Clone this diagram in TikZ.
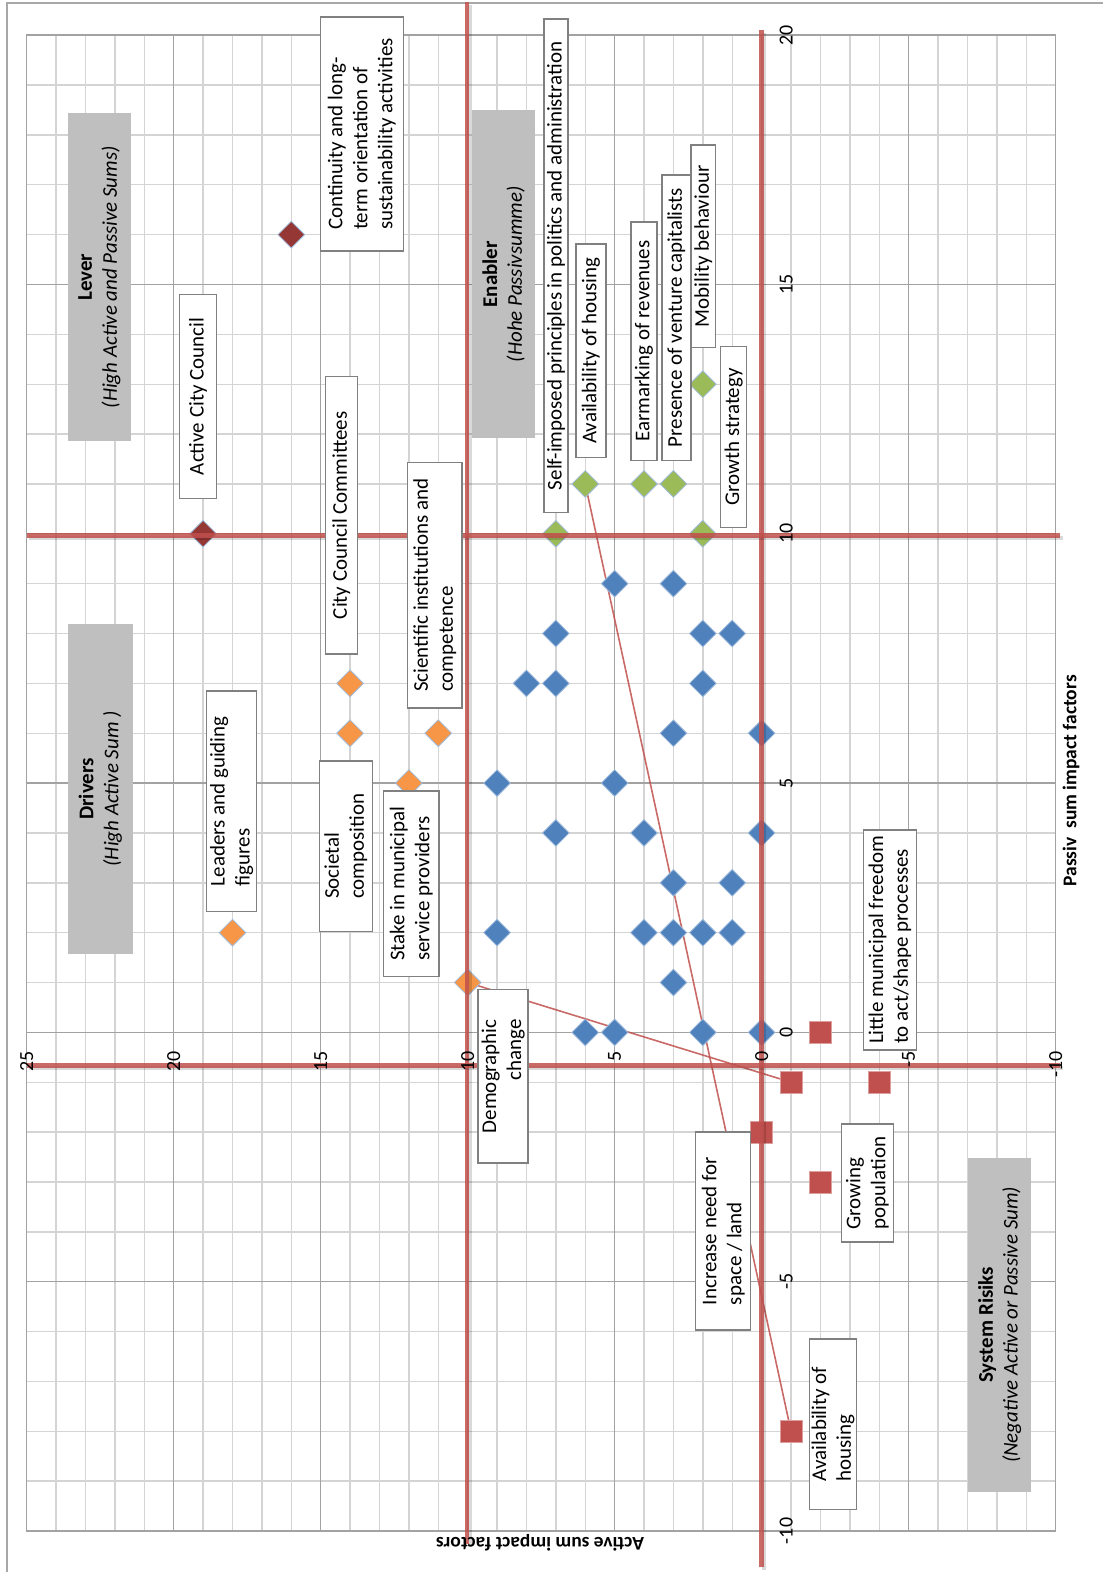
\documentclass[tikz,border=0pt]{standalone}
\usepackage{fontspec}
\setmainfont{Carlito}
\usetikzlibrary{shapes.geometric}

\definecolor{gridminor}{HTML}{D4D4D4}
\definecolor{gridmajor}{HTML}{A2A2A2}
\definecolor{framegrey}{HTML}{A8A8A8}
\definecolor{ptblue}{HTML}{4F81BD}
\definecolor{ptorange}{HTML}{F79646}
\definecolor{ptgreen}{HTML}{9BBB59}
\definecolor{ptdark}{HTML}{953735}
\definecolor{ptred}{HTML}{C0504D}
\definecolor{panelgrey}{HTML}{BFBFBF}
\definecolor{tagedge}{HTML}{808080}

\pgfdeclarelayer{paper}
\pgfdeclarelayer{gridlayer}
\pgfdeclarelayer{linklayer}
\pgfsetlayers{paper,gridlayer,linklayer,main}

\tikzset{
  chart/.style={shift={(763,1032)}, x={(-29.45pt,0pt)}, y={(0pt,49.95pt)}},
  minorline/.style={gridminor, line width=1.4pt},
  majorline/.style={gridmajor, line width=1.4pt},
  dmd/.style={diamond, inner sep=0pt, minimum width=27pt, minimum height=27pt,
    draw=ptblue!55!white, line width=0.8pt},
  factorpt/.style={dmd, fill=ptblue},
  driverpt/.style={dmd, fill=ptorange},
  leverpt/.style={dmd, fill=ptdark},
  enablerpt/.style={dmd, fill=ptgreen},
  riskpt/.style={rectangle, inner sep=0pt, minimum size=22pt, fill=ptred,
    draw=ptred!55!white, line width=0.8pt},
  link/.style={ptred, line width=1.6pt, opacity=0.85},
  redrule/.style={ptred, line width=4.5pt, opacity=0.85},
  rulehalo/.style={black, line width=4pt, opacity=0.15},
  panel/.style={fill=panelgrey, rotate=90, inner sep=0pt, align=center,
    font=\fontsize{21}{25}\selectfont},
  tagstyle/.style={draw=tagedge, fill=white, line width=1.5pt, rotate=90,
    inner xsep=6pt, inner ysep=0pt, font=\fontsize{21}{25}\selectfont},
  ticklbl/.style={rotate=90, inner sep=0pt, font=\fontsize{20}{22}\selectfont},
  axtitle/.style={inner sep=0pt, font=\bfseries\fontsize{19.5}{22}\selectfont},
}

% text box given by name, left, top, right, bottom, alignment, text
\newcommand{\tagbox}[7]{%
  \pgfmathsetmacro\tbw{(#4)-(#2)}%
  \pgfmathsetmacro\tbh{(#5)-(#3)}%
  \node[tagstyle, align=#6, minimum width=\tbh pt, minimum height=\tbw pt]
    (#1) at ({((#2)+(#4))/2},{((#3)+(#5))/2}) {#7};}

\begin{document}
\begin{tikzpicture}[x=1pt,y=-1pt]
\begin{pgfonlayer}{paper}
  \path[use as bounding box, fill=white] (0,0) rectangle (1105,1573);
\end{pgfonlayer}

% chart frame
\draw[framegrey, line width=1.2pt] (7,1573) -- (7,0.8) -- (1105,0.8);

\begin{scope}[chart]
  % grid
  \begin{pgfonlayer}{gridlayer}
    \foreach \a in {-9,...,24} \draw[minorline] (\a,-10) -- (\a,20);
    \foreach \p in {-9,...,19} \draw[minorline] (-10,\p) -- (25,\p);
    \foreach \a in {-5,0,...,20} \draw[majorline] (\a,-10) -- (\a,20);
    \foreach \p in {-5,0,...,15} \draw[majorline] (-10,\p) -- (25,\p);
    \draw[majorline] (-10,-10) rectangle (25,20);
  \end{pgfonlayer}

  % factors: (active sum, passive sum)
  \foreach \a/\p [count=\i] in {6/0,5/0,2/0,0/0,3/1,9/2,4/2,3/2,2/2,1/2,3/3,1/3,
      7/4,4/4,0/4,9/5,5/5,3/6,0/6,8/7,7/7,2/7,7/8,2/8,1/8,5/9,3/9}
    \node[factorpt] (f\i) at (\a,\p) {};

  \node[driverpt] (dLeaders) at (18,2) {};
  \node[driverpt] (dCommittees) at (14,7) {};
  \node[driverpt] (dSocietal) at (14,6) {};
  \node[driverpt] (dStake) at (12,5) {};
  \node[driverpt] (dScience) at (11,6) {};
  \node[driverpt] (dDemo) at (10,1) {};

  \node[leverpt] (lCouncil) at (19,10) {};
  \node[leverpt] (lContinuity) at (16,16) {};

  \node[enablerpt] (eSelf) at (7,10) {};
  \node[enablerpt] (eHousing) at (6,11) {};
  \node[enablerpt] (eEarmark) at (4,11) {};
  \node[enablerpt] (eVenture) at (3,11) {};
  \node[enablerpt] (eGrowth) at (2,10) {};
  \node[enablerpt] (eMobility) at (2,13) {};

  \node[riskpt] (rLittle) at (-2,0) {};
  \node[riskpt] (rDemo) at (-1,-1) {};
  \node[riskpt] (rLittleB) at (-4,-1) {};
  \node[riskpt] (rSpace) at (0,-2) {};
  \node[riskpt] (rGrowing) at (-2,-3) {};
  \node[riskpt] (rHousing) at (-1,-8) {};

  % shifts of factors
  \begin{pgfonlayer}{linklayer}
    \draw[link] (dDemo.center) -- (rDemo.center);
    \draw[link] (eHousing.center) -- (rHousing.center);
  \end{pgfonlayer}
\end{scope}

% quadrant borders
\foreach \sx/\sy/\ex/\ey in {468/0/468/1545, 763/28/763/1568, 27/534/1062/534, 27/1065/1062/1065}{
  \draw[rulehalo] (\sx+2.5,\sy+2.5) -- (\ex+2.5,\ey+2.5);
  \draw[redrule] (\sx,\sy) -- (\ex,\ey);
}

% quadrant captions
\node[panel, minimum width=329pt, minimum height=63pt] (lever) at (99.5,275.5)
  {\textbf{Lever}\\\textit{(High Active and Passive Sums)}};
\node[panel, minimum width=330pt, minimum height=65pt] (drivers) at (100.5,788)
  {\textbf{Drivers}\\\textit{(High Active Sum )}};
\node[panel, minimum width=329pt, minimum height=63pt] (enabler) at (504.5,272.5)
  {\textbf{Enabler}\\\textit{(Hohe Passivsumme)}};
\node[panel, minimum width=334pt, minimum height=63pt] (risks) at (1001.5,1325)
  {\textbf{System Risiks}\\\textit{(Negative Active or Passive Sum)}};

% factor labels
\tagbox{tContinuity}{321}{15}{404}{249}{left}{Continuity and long-\\term orientation of\\sustainability activities}
\tagbox{tCouncil}{180}{293}{217}{497}{left}{Active City Council}
\tagbox{tCommittees}{326}{375}{358}{653}{left}{City Council Committees}
\tagbox{tScience}{408}{461}{463}{707}{left}{Scientific institutions and\\competence}
\tagbox{tLeaders}{207}{690}{257}{911}{left}{Leaders and guiding\\figures}
\tagbox{tSocietal}{320}{760}{373}{931}{left}{Societal\\composition}
\tagbox{tStake}{384}{790}{440}{976}{left}{Stake in municipal\\service providers}
\tagbox{tSelf}{545}{17}{569}{511}{left}{Self-imposed principles in politics and administration}
\tagbox{tHousingA}{577}{242}{607}{456}{left}{Availability of housing}
\tagbox{tEarmark}{632}{220}{658}{459}{left}{Earmarking of revenues}
\tagbox{tVenture}{663}{173}{692}{459}{left}{Presence of venture capitalists}
\tagbox{tMobility}{692}{143}{717}{346}{left}{Mobility behaviour}
\tagbox{tGrowth}{722}{345}{748}{526}{left}{Growth strategy}
\tagbox{tDemo}{479}{989}{529}{1163}{right}{Demographic\\change}
\tagbox{tSpace}{697}{1132}{752}{1330}{left}{Increase need for\\space / land}
\tagbox{tGrowing}{843}{1124}{895}{1242}{left}{Growing\\population}
\tagbox{tLittle}{865}{830}{918}{1049}{left}{Little municipal freedom\\to act/shape processes}
\tagbox{tHousingB}{811}{1339}{858}{1510}{left}{Availability of\\housing}

% axis tick labels
\begin{scope}[chart]
  \foreach \v in {25,20,...,-10}
    \node[ticklbl, anchor=east] (ta\v) at (\v,-0.38) {\v};
  \foreach \v in {20,15,...,-10}
    \node[ticklbl, anchor=north] (tp\v) at (-0.61,\v) {\v};
\end{scope}

% axis titles
\node[axtitle, rotate=90] (ptitle) at (1073,780) {Passiv\ \ sum impact factors};
\node[axtitle, rotate=180] (atitle) at (541,1543) {Active sum impact factors};
\end{tikzpicture}
\end{document}
